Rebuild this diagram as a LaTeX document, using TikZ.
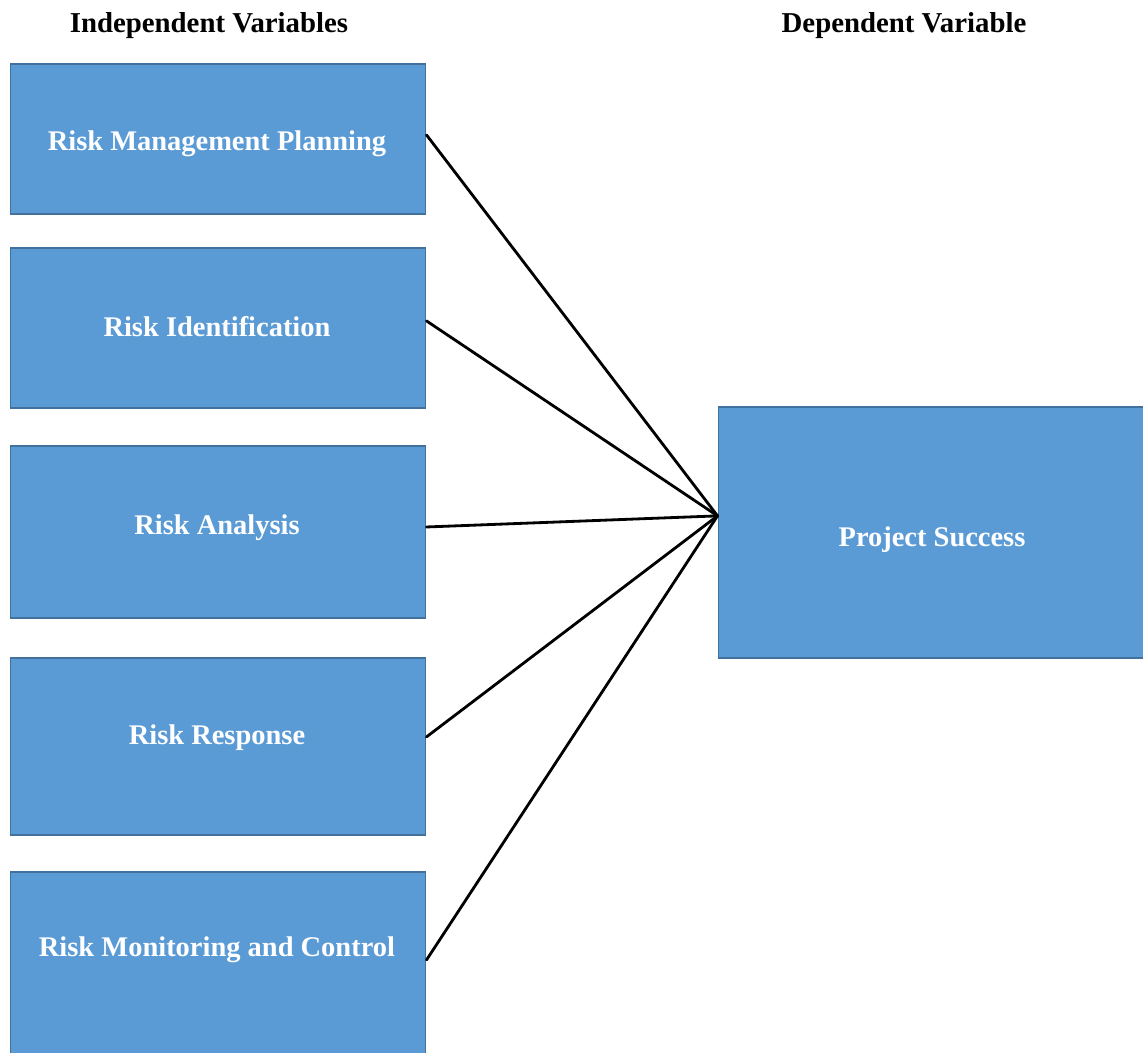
\documentclass[tikz,border=0pt]{standalone}
\usepackage{fontspec}
\setmainfont{Liberation Serif}
\usetikzlibrary{calc}
\definecolor{boxfill}{HTML}{5B9BD5}
\definecolor{boxedge}{HTML}{41719C}
\tikzset{
  varbox/.style={draw=boxedge, line width=0.6pt, fill=boxfill, inner sep=0pt, minimum width=8.32cm},
  boxtext/.style={text=white, font=\fontsize{16.2}{19}\selectfont\bfseries, inner sep=0pt},
  headtext/.style={text=black, font=\fontsize{16.4}{19}\selectfont\bfseries, inner sep=0pt},
  link/.style={draw=black, line width=1.6pt, line cap=round}
}
\begin{document}
\begin{tikzpicture}[x=0.02cm, y=-0.02cm]
\useasboundingbox (0,0) rectangle (1143,1053);
\begin{scope}
\clip (0,0) rectangle (1143,1053);
% boxes
\node[varbox, minimum height=3.0cm] (b1) at (218,139) {};
\node[varbox, minimum height=3.2cm] (b2) at (218,328) {};
\node[varbox, minimum height=3.44cm] (b3) at (218,532) {};
\node[varbox, minimum height=3.54cm] (b4) at (218,746.5) {};
\node[varbox, minimum height=3.76cm] (b5) at (218,966) {};
\node[varbox, minimum width=8.64cm, minimum height=5.02cm] (ps) at (934,532.5) {};
\end{scope}
% texts
\node[headtext] (h1) at (209,26) {Independent Variables};
\node[headtext] (h2) at (904,26) {Dependent Variable};
\node[boxtext] (t1) at (217,144) {Risk Management Planning};
\node[boxtext] (t2) at (217,327) {Risk Identification};
\node[boxtext] (t3) at (217,528) {Risk Analysis};
\node[boxtext] (t4) at (217,738) {Risk Response};
\node[boxtext] (t5) at (217,950) {Risk Monitoring and Control};
\node[boxtext] (t6) at (932,540) {Project Success};
% hub
\coordinate (hub) at ($(ps.north west)!0.434!(ps.south west)$);
% connectors
\draw[link] ($(b1.north east)!0.473!(b1.south east)$) -- (hub);
\draw[link] ($(b2.north east)!0.456!(b2.south east)$) -- (hub);
\draw[link] ($(b3.north east)!0.471!(b3.south east)$) -- (hub);
\draw[link] ($(b4.north east)!0.446!(b4.south east)$) -- (hub);
\draw[link] ($(b5.north east)!0.468!(b5.south east)$) -- (hub);
\end{tikzpicture}
\end{document}
